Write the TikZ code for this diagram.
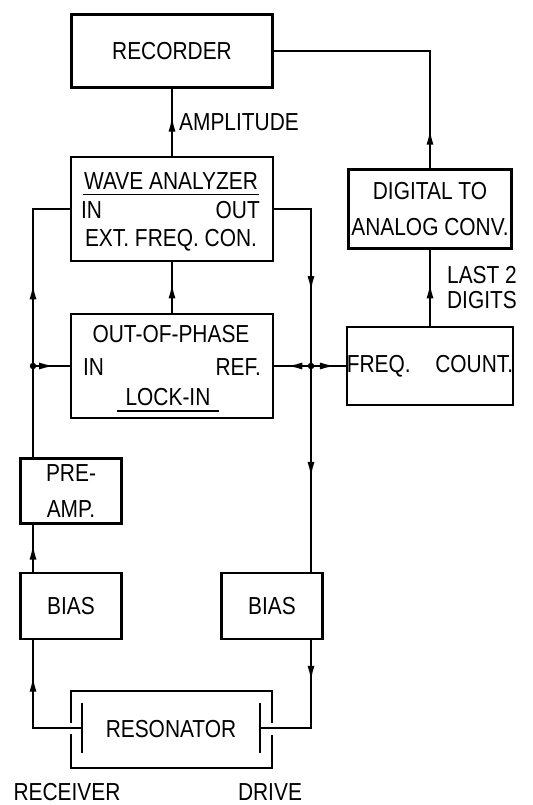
\documentclass[tikz,border=0pt]{standalone}
\usepackage{fontspec}
\setmainfont{Liberation Sans}[FakeStretch=0.85]
\usepackage{tikz}
\usetikzlibrary{arrows.meta, decorations.markings}

\begin{document}
\begin{tikzpicture}[x=0.02cm, y=-0.02cm, line width=1.3pt,
  box/.style={draw, inner sep=0pt, align=center, font=\fontsize{14}{21}\selectfont},
  txt/.style={inner sep=0pt, font=\fontsize{14}{16}\selectfont},
  flow/.style={postaction={decorate, decoration={markings,
      mark=at position #1 with {\arrow{Latex[length=3.2mm, width=1.4mm]}}}}}]
  \useasboundingbox (0,0) rectangle (533,805);

  % Instruments
  \node[box, minimum width=4.02cm, minimum height=1.46cm] (rec)   at (172,51)  {RECORDER};
  \node[box, minimum width=4.04cm, minimum height=2.08cm] (wave)  at (172,209) {};
  \node[box, minimum width=3.26cm, minimum height=1.58cm] (dac)   at (430,209) {DIGITAL TO\\ANALOG CONV.};
  \node[box, minimum width=4.04cm, minimum height=2.08cm] (lock)  at (172,366) {};
  \node[box, minimum width=3.28cm, minimum height=1.56cm] (freq)  at (430,366) {FREQ.\hspace{1em}COUNT.};
  \node[box, minimum width=2.02cm, minimum height=1.30cm] (pre)   at (71,491)  {PRE-\\AMP.};
  \node[box, minimum width=2.02cm, minimum height=1.32cm] (biasL) at (71,606)  {BIAS};
  \node[box, minimum width=2.02cm, minimum height=1.32cm] (biasR) at (272,606) {BIAS};

  % Labels inside the wave analyzer
  \node[txt] (wtitle) at (171,181) {WAVE ANALYZER};
  \node[txt, anchor=west] (win)  at (80,210)  {IN};
  \node[txt, anchor=east] (wout) at (261,210) {OUT};
  \node[txt] (wext) at (171,240) {EXT. FREQ. CON.};
  \draw[line width=1pt] ([yshift=-0.08cm]wtitle.south west) -- ([yshift=-0.08cm]wtitle.south east);

  % Labels inside the lock-in
  \node[txt] (ltitle) at (171,334) {OUT-OF-PHASE};
  \node[txt, anchor=west] (lin)  at (82,367)  {IN};
  \node[txt, anchor=east] (lref) at (262,367) {REF.};
  \node[txt] (lname) at (168,397) {LOCK-IN};
  \draw[line width=1pt] ([xshift=-0.14cm, yshift=-0.08cm]lname.south west)
    -- ([xshift=0.14cm, yshift=-0.08cm]lname.south east);

  % Resonator with its two electrodes
  \node[txt] (res) at (171,729) {RESONATOR};
  \draw (71,723) -- (71,691) -- (272,691) -- (272,723);
  \draw (71,734) -- (71,768) -- (272,768) -- (272,735);
  \draw (82,703) -- (82,753);
  \draw (260,703) -- (260,753);
  \coordinate (rx) at (82,728);
  \coordinate (dr) at (260,728);

  % Branch points
  \coordinate (jl) at (33,366);
  \coordinate (jr) at (311,366);

  % Receiver side
  \draw[flow=0.74] (rx) -| (jl |- biasL.south);
  \draw[flow=0.6]  (jl |- biasL.north) -- (jl |- pre.south);
  \draw[flow=0.61] (jl |- pre.north) |- (wave.west);
  \draw[flow=0.6]  (jl) -- (lock.west);
  \fill (jl) circle[radius=0.065cm];

  % Drive side
  \draw[flow=0.3, flow=0.765] (wave.east) -| (jr |- biasR.north);
  \draw[flow=0.3] (jr |- biasR.south) |- (dr);
  \draw[flow=0.67] (jr) -- (lock.east);
  \draw[flow=0.72] (jr) -- (freq.west);
  \fill (jr) circle[radius=0.065cm];

  % Read-out
  \draw[flow=0.6]  (lock.north) -- (wave.south);
  \draw[flow=0.6]  (wave.north) -- node[txt, anchor=west, xshift=0.12cm] (amp) {AMPLITUDE} (rec.south);
  \draw[flow=0.57] (freq.north) -- node[txt, anchor=west, align=left, xshift=0.32cm,
    font=\fontsize{14}{14}\selectfont] (last) {LAST 2\\DIGITS} (dac.south);
  \draw[flow=0.145] (dac.north) |- (rec.east);

  % Electrode names
  \node[txt] (recv)  at (67,792)  {RECEIVER};
  \node[txt] (drive) at (270,792) {DRIVE};
\end{tikzpicture}
\end{document}
